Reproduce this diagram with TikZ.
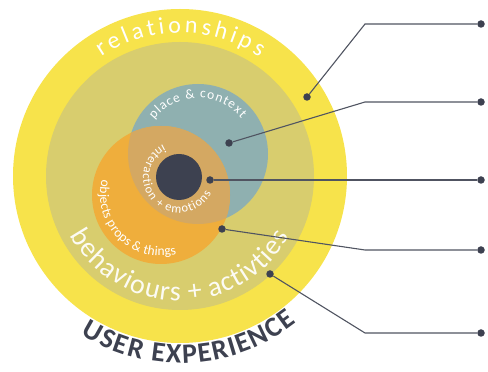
\documentclass[tikz,border=0pt]{standalone}
\usepackage{fontspec}
\setmainfont{Carlito}
\usetikzlibrary{decorations.text}
\definecolor{ringyellow}{HTML}{F7E34B}
\definecolor{ringkhaki}{HTML}{D8CD6E}
\definecolor{placeblue}{HTML}{8FB0B0}
\definecolor{propsorange}{HTML}{EFAE3C}
\definecolor{overlaptan}{HTML}{D4A862}
\definecolor{slate}{HTML}{3D4150}

\begin{document}
\begin{tikzpicture}[x=1pt, y=1pt,
    dot/.style={circle, fill=slate, inner sep=0pt, minimum size=7.5pt},
    leader/.style={draw=slate!90!white, line width=1.1pt},
    % #1 font, #2 tracking, #3 colour, #4 text
    curved/.style n args={4}{decorate, decoration={text along path,
        text align=center,
        text={|#1\color{#3}\kern#2pt|#4}}}]
  \useasboundingbox (0,0) rectangle (488,372);
  % Rings
  \coordinate (C) at (180,196);
  \fill[ringyellow] (C) circle (167pt);
  \fill[ringkhaki] (C) circle (134pt);
  % Place and objects, with their overlap
  \fill[placeblue] (198,218) circle (70pt);
  \fill[propsorange] (161,177) circle (69pt);
  \begin{scope}
    \clip (198,218) circle (70pt);
    \fill[overlaptan] (161,177) circle (69pt);
  \end{scope}
  % Core
  \fill[slate] (179,195) circle (23pt);
  % Curved labels
  \path[curved={\fontsize{24}{24}\selectfont}{3.5}{white}{relationships}]
    ([shift={(140:143pt)}]C) arc (140:41:143pt);
  \path[curved={\fontsize{28}{28}\selectfont}{1}{white!92!ringkhaki}{behaviours + activties}]
    ([shift={(195:125pt)}]C) arc (195:344:125pt);
  \path[curved={\fontsize{28}{28}\selectfont\bfseries}{1.5}{slate}{USER EXPERIENCE}]
    ([shift={(228:187pt)}]C) arc (228:318:187pt);
  \path[curved={\fontsize{13.5}{13.5}\selectfont}{1}{white}{place {\&} context}]
    ([shift={(150:56pt)}]198,218) arc (150:32:56pt);
  \path[curved={\fontsize{13.5}{13.5}\selectfont}{0.2}{white}{objects props {\&} things}]
    ([shift={(155:61pt)}]161,177) arc (155:295:61pt);
  \path[curved={\fontsize{12.5}{12.5}\selectfont}{1}{white}{interaction + emotions}]
    ([shift={(100:36pt)}]179,195) arc (100:348:36pt);
  % Leader dots
  \node[dot] (d1) at (307,275) {};
  \node[dot] (d2) at (229,229) {};
  \node[dot] (d3) at (210,192) {};
  \node[dot] (d4) at (222,143) {};
  \node[dot] (d5) at (270,98) {};
  \node[dot] (t1) at (481,348) {};
  \node[dot] (t2) at (481,270) {};
  \node[dot] (t3) at (481,192) {};
  \node[dot] (t4) at (481,122) {};
  \node[dot] (t5) at (481,39) {};
  \coordinate (k1) at (365,348);
  \coordinate (k2) at (365,270);
  \coordinate (k4) at (365,122);
  \coordinate (k5) at (365,39);
  % Leaders
  \draw[leader] (d1) -- (k1) -- (t1);
  \draw[leader] (d2) -- (k2) -- (t2);
  \draw[leader] (d3) -- (t3);
  \draw[leader] (d4) -- (k4) -- (t4);
  \draw[leader] (d5) -- (k5) -- (t5);
\end{tikzpicture}
\end{document}
